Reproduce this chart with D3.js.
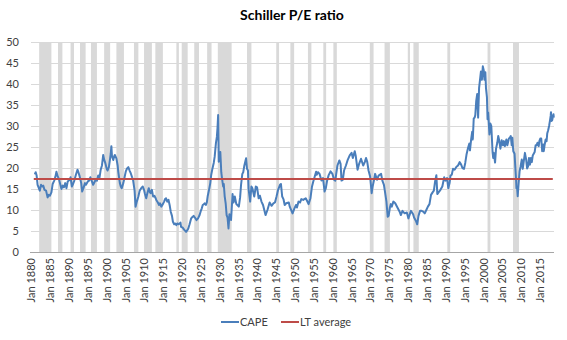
<!DOCTYPE html>
<html>
<head>
<meta charset="utf-8">
<script src="https://cdn.jsdelivr.net/npm/d3@7"></script>
<style>
  html, body { margin: 0; padding: 0; background: #fff; }
  svg text { font-family: Lato, "Open Sans", "DejaVu Sans", sans-serif; fill: #404040; }
</style>
</head>
<body>
<svg id="chart" width="567" height="340"></svg>
<script>
// Shiller cyclically adjusted P/E (CAPE), sampled through the series
const capeDates = [
  "1881-01","1881-04","1881-07","1881-10","1882-02","1882-05","1882-09","1883-01","1883-04","1883-08",
  "1884-01","1884-06","1884-09","1885-01","1885-06","1885-10","1886-03","1886-07","1886-10","1887-02",
  "1887-06","1887-10","1888-02","1888-06","1888-10","1889-02","1889-06","1889-10","1890-04","1890-07",
  "1890-11","1891-03","1891-07","1891-12","1892-05","1892-08","1892-12","1893-05","1893-08","1893-12",
  "1894-05","1894-08","1895-02","1895-06","1895-10","1896-03","1896-07","1896-11","1897-03","1897-07",
  "1897-11","1898-03","1898-07","1898-11","1899-03","1899-06","1899-10","1900-02","1900-05","1900-09",
  "1901-01","1901-03","1901-05","1901-07","1901-11","1902-02","1902-04","1902-09","1903-01","1903-03",
  "1903-08","1903-11","1904-02","1904-07","1904-11","1905-03","1905-07","1905-11","1906-03","1906-07",
  "1906-11","1907-02","1907-07","1907-10","1908-02","1908-07","1908-11","1909-04","1909-09","1910-01",
  "1910-04","1910-08","1910-11","1911-04","1911-08","1911-10","1912-02","1912-06","1912-10","1913-02",
  "1913-04","1913-09","1914-01","1914-04","1914-08","1915-01","1915-05","1915-08","1915-11","1916-03",
  "1916-07","1916-11","1917-02","1917-06","1917-09","1918-01","1918-04","1918-08","1918-11","1919-03",
  "1919-07","1919-09","1919-11","1920-04","1920-08","1920-10","1921-03","1921-07","1921-10","1922-02",
  "1922-07","1922-12","1923-03","1923-07","1923-12","1924-05","1924-10","1925-01","1925-05","1925-08",
  "1925-12","1926-02","1926-06","1926-09","1926-12","1927-04","1927-08","1927-11","1928-03","1928-07",
  "1928-10","1929-02","1929-05","1929-07","1929-09","1929-10","1929-11","1930-01","1930-04","1930-07",
  "1930-10","1931-01","1931-03","1931-06","1931-09","1931-12","1932-03","1932-06","1932-09","1932-12",
  "1933-02","1933-05","1933-07","1933-10","1934-02","1934-07","1934-10","1935-03","1935-07","1935-10",
  "1936-02","1936-05","1936-08","1937-02","1937-05","1937-08","1937-10","1938-03","1938-07","1938-10",
  "1939-04","1939-09","1940-01","1940-06","1940-10","1941-03","1941-08","1942-04","1942-10","1943-05",
  "1943-11","1944-05","1944-10","1945-03","1945-08","1946-02","1946-05","1946-09","1947-01","1947-05",
  "1947-10","1948-06","1948-09","1949-06","1949-12","1950-05","1950-08","1951-01","1951-06","1951-10",
  "1952-04","1952-12","1953-04","1953-09","1954-03","1954-08","1954-12","1955-04","1955-09","1955-11",
  "1956-03","1956-08","1957-02","1957-07","1957-12","1958-04","1958-08","1959-01","1959-07","1960-01",
  "1960-06","1960-10","1961-01","1961-05","1961-11","1962-03","1962-06","1962-10","1963-02","1963-08",
  "1964-01","1964-08","1965-02","1965-06","1965-12","1966-03","1966-09","1967-02","1967-08","1968-03",
  "1968-08","1968-12","1969-04","1969-08","1970-01","1970-06","1970-09","1971-01","1971-05","1971-11",
  "1972-04","1972-12","1973-04","1973-09","1974-01","1974-05","1974-09","1974-12","1975-04","1975-07",
  "1975-10","1976-03","1976-09","1977-04","1977-11","1978-03","1978-08","1979-03","1979-10","1980-03",
  "1980-11","1981-06","1981-09","1982-03","1982-07","1982-11","1983-04","1983-09","1984-02","1984-07",
  "1984-12","1985-05","1985-10","1986-03","1986-08","1986-12","1987-04","1987-08","1987-11","1988-03",
  "1988-09","1989-03","1989-09","1990-01","1990-06","1990-10","1991-02","1991-05","1991-09","1992-01",
  "1992-06","1992-12","1993-05","1993-10","1994-03","1994-07","1994-12","1995-04","1995-08","1996-01",
  "1996-05","1996-07","1996-11","1997-02","1997-04","1997-07","1997-10","1997-12","1998-03","1998-06",
  "1998-09","1998-12","1999-03","1999-06","1999-09","1999-12","2000-03","2000-05","2000-08","2000-10",
  "2001-01","2001-03","2001-05","2001-09","2001-12","2002-03","2002-07","2002-09","2002-11","2003-03",
  "2003-06","2003-10","2004-01","2004-04","2004-08","2004-12","2005-04","2005-07","2005-10","2006-03",
  "2006-06","2006-11","2007-02","2007-05","2007-08","2007-10","2008-01","2008-05","2008-07","2008-10",
  "2008-11","2009-01","2009-03","2009-06","2009-09","2009-12","2010-04","2010-07","2010-10","2011-02",
  "2011-06","2011-09","2011-12","2012-03","2012-06","2012-09","2012-12","2013-03","2013-06","2013-09",
  "2013-12","2014-03","2014-06","2014-10","2014-12","2015-03","2015-06","2015-09","2015-12","2016-02",
  "2016-05","2016-08","2016-11","2017-01","2017-04","2017-07","2017-10","2017-12","2018-01","2018-03",
  "2018-05","2018-07","2018-09","2018-10"
];
const capeValues = [
  18.5,19.0,18.2,16.0,15.2,14.6,16.0,15.6,15.8,14.8,
  14.6,13.0,13.6,13.4,14.2,16.2,17.0,18.0,19.1,18.0,
  17.4,16.2,15.0,15.8,15.4,16.4,15.2,16.8,17.2,17.8,
  15.6,16.2,17.0,18.4,19.6,19.0,18.0,16.4,14.4,15.2,
  16.4,16.0,16.8,17.0,17.8,16.8,16.0,16.6,17.2,17.0,
  18.2,17.6,19.6,20.6,23.1,22.0,21.1,19.8,19.4,20.2,
  22.3,23.4,25.2,22.8,21.9,22.8,23.1,22.3,20.6,19.1,
  16.4,15.6,15.2,16.4,17.8,19.2,19.9,20.2,19.4,18.7,
  17.8,17.2,14.6,10.8,12.0,13.2,14.6,15.2,15.6,14.8,
  13.8,12.8,13.8,15.2,14.2,14.0,14.8,13.2,13.4,12.8,
  12.4,11.8,11.2,11.6,10.8,11.4,12.0,12.6,12.8,12.0,
  12.4,11.0,9.6,8.6,7.2,6.6,6.8,6.4,6.8,6.6,
  6.8,7.0,6.0,5.8,5.4,5.2,4.8,5.2,5.6,6.6,
  8.0,8.4,8.6,8.2,7.6,8.0,8.8,9.6,10.4,11.2,
  11.4,11.6,11.2,11.8,13.4,14.8,16.4,18.4,19.9,21.2,
  22.7,26.0,27.4,29.5,32.6,27.4,21.5,22.0,23.8,19.0,
  17.2,15.6,16.2,13.2,11.6,8.8,8.2,5.6,9.0,8.2,
  7.6,11.2,13.8,11.8,13.2,11.4,11.2,10.8,13.0,16.0,
  18.6,19.0,20.4,22.3,19.8,19.4,15.0,12.0,15.6,15.2,
  13.2,15.6,15.4,12.8,13.4,12.0,11.2,8.8,10.0,11.8,
  11.0,11.6,11.8,13.2,14.8,16.0,16.2,13.2,12.6,11.2,
  11.6,11.8,10.8,9.2,10.4,11.2,10.6,12.0,11.8,12.6,
  12.4,12.8,12.2,11.4,12.8,15.6,16.8,17.8,19.1,18.4,
  19.0,18.6,17.0,17.6,14.4,15.2,17.0,18.3,19.2,18.6,
  17.2,17.0,18.6,20.6,21.8,21.0,17.0,17.2,19.4,20.6,
  21.8,23.0,23.6,22.4,24.0,23.0,19.6,21.0,22.2,20.6,
  21.4,22.4,21.4,19.4,18.0,14.0,15.6,17.0,18.6,17.2,
  18.2,18.6,17.0,16.0,14.0,12.0,8.4,8.6,10.6,11.4,
  10.8,12.0,11.6,10.6,9.6,8.8,9.8,9.2,9.4,8.0,
  9.8,9.0,8.2,7.4,6.6,8.6,9.8,9.8,9.6,9.2,
  10.0,10.8,11.4,13.6,14.2,14.6,16.8,18.3,13.8,14.2,
  14.8,15.6,17.8,17.0,17.6,15.2,16.4,18.2,18.4,19.8,
  19.6,20.3,20.6,21.4,20.8,20.0,19.8,21.2,23.2,24.8,
  25.8,24.2,27.0,28.6,26.8,31.8,32.0,32.6,36.0,37.6,
  32.0,39.0,41.0,43.0,41.0,44.2,43.2,41.0,42.8,39.0,
  36.9,31.6,33.2,28.0,30.6,30.0,23.8,22.4,23.6,21.3,
  24.6,26.0,27.6,26.6,24.6,26.6,25.4,26.4,25.2,26.8,
  25.4,27.0,27.2,27.6,25.4,27.2,24.0,23.4,20.8,17.0,
  15.2,15.4,13.3,16.4,19.2,20.3,22.0,19.8,21.4,23.6,
  22.0,19.9,20.4,22.4,20.8,22.4,21.4,23.0,23.4,23.8,
  25.4,25.4,26.0,25.2,26.4,27.0,27.0,24.0,25.6,24.0,
  25.6,26.8,26.4,28.2,29.0,30.0,31.4,32.4,33.3,31.2,
  31.4,32.2,32.8,32.0
];

// Long-term average of the CAPE series
const ltAverage = 17.4;

// US recessions (peak month, trough month)
const recessionStarts = [
  "1882-03","1887-03","1890-07","1893-01","1895-12","1899-06","1902-09","1907-05","1910-01","1913-01",
  "1918-08","1920-01","1923-05","1926-10","1929-08","1937-05","1945-02","1948-11","1953-07","1957-08",
  "1960-04","1969-12","1973-11","1980-01","1981-07","1990-07","2001-03","2007-12"
];
const recessionEnds = [
  "1885-05","1888-04","1891-05","1894-06","1897-06","1900-12","1904-08","1908-06","1912-01","1914-12",
  "1919-03","1921-07","1924-07","1927-11","1933-03","1938-06","1945-10","1949-10","1954-05","1958-04",
  "1961-02","1970-11","1975-03","1980-07","1982-11","1991-03","2001-11","2009-06"
];

// Axis tick labels
const tickYears = d3.range(1880, 2016, 5);
const yTicks = d3.range(0, 51, 5);

const chartTitle = "Schiller P/E ratio";
const seriesNames = ["CAPE", "LT average"];
const seriesColors = ["#4a7ebb", "#be4b48"];

const parse = d3.timeParse("%Y-%m");
const cape = capeDates.map((d, i) => ({ date: parse(d), value: capeValues[i] }));
const recessions = recessionStarts.map((s, i) => ({
  start: parse(s),
  end: d3.timeMonth.offset(parse(recessionEnds[i]), 1)
}));

const svg = d3.select("#chart");
const plotLeft = 31, plotRight = 554, plotTop = 42, plotBottom = 252;

const x = d3.scaleTime()
  .domain([new Date(1880, 0, 1), new Date(2018, 9, 20)])
  .range([plotLeft, plotRight]);
const y = d3.scaleLinear().domain([0, 50]).range([plotBottom, plotTop]);

// Title
svg.append("text")
  .attr("x", 292).attr("y", 20)
  .attr("text-anchor", "middle")
  .style("font-size", "14px").style("font-weight", "bold")
  .style("fill", "#000")
  .text(chartTitle);

// Recession shading
svg.append("g").selectAll("rect").data(recessions).join("rect")
  .attr("x", d => x(d.start))
  .attr("width", d => x(d.end) - x(d.start))
  .attr("y", plotTop).attr("height", plotBottom - plotTop)
  .attr("fill", "#d9d9d9");

// Horizontal gridlines
svg.append("g").selectAll("line").data(yTicks.filter(v => v > 0)).join("line")
  .attr("x1", plotLeft).attr("x2", plotRight)
  .attr("y1", d => y(d) + 0.5).attr("y2", d => y(d) + 0.5)
  .attr("stroke", "#d9d9d9").attr("stroke-width", 1);

// Y axis labels
const yAxis = svg.append("g")
  .attr("transform", `translate(${plotLeft - 12},0)`)
  .call(d3.axisLeft(y).tickValues(yTicks).tickSize(0).tickPadding(0));
yAxis.select(".domain").remove();
yAxis.selectAll("text").style("font-size", "11px").attr("font-family", null).attr("dy", "0.35em");

// X axis
const xAxis = svg.append("g")
  .attr("transform", `translate(0,${plotBottom})`)
  .call(d3.axisBottom(x)
    .tickValues(tickYears.map(yr => new Date(yr, 0, 1)))
    .tickSize(0)
    .tickFormat(d3.timeFormat("Jan %Y")));
xAxis.select(".domain")
  .attr("d", `M${plotLeft - 1},0.5H${plotRight}`)
  .attr("stroke", "#a6a6a6");
xAxis.selectAll("text")
  .style("font-size", "11px").attr("font-family", null)
  .attr("text-anchor", "end")
  .attr("transform", "rotate(-90)")
  .attr("x", -6).attr("y", 0).attr("dy", "0.35em");

// CAPE line
svg.append("path")
  .datum(cape)
  .attr("fill", "none")
  .attr("stroke", seriesColors[0])
  .attr("stroke-width", 2)
  .attr("stroke-linejoin", "round")
  .attr("d", d3.line().x(d => x(d.date)).y(d => y(d.value)));

// Long-term average line
svg.append("path")
  .datum([cape[0].date, cape[cape.length - 1].date])
  .attr("fill", "none")
  .attr("stroke", seriesColors[1])
  .attr("stroke-width", 2)
  .attr("d", d3.line().x(d => x(d) - 1).y(() => y(ltAverage)));

// Legend
const legendX = [221, 281];
const legend = svg.append("g").selectAll("g").data(seriesNames).join("g")
  .attr("transform", (d, i) => `translate(${legendX[i]},322)`);
legend.append("line")
  .attr("x1", 0).attr("x2", 18).attr("y1", 0).attr("y2", 0)
  .attr("stroke", (d, i) => seriesColors[i]).attr("stroke-width", 2);
legend.append("text")
  .attr("x", 19).attr("dy", "0.35em")
  .style("font-size", "11px")
  .text(d => d);
</script>
</body>
</html>
